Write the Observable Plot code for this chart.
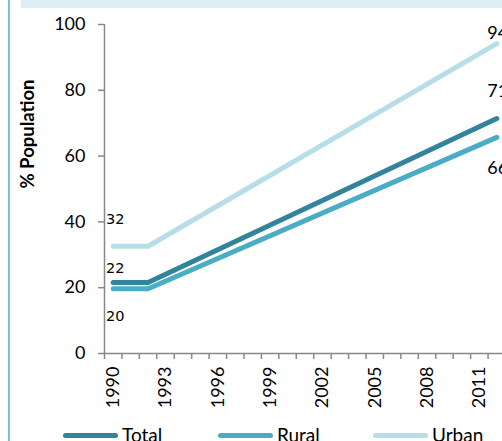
<!DOCTYPE html>
<html><head><meta charset="utf-8">
<script src="https://cdn.jsdelivr.net/npm/d3@7"></script>
<script src="https://cdn.jsdelivr.net/npm/@observablehq/plot@0.6"></script>
<style>
body{margin:0;background:#fff;}
#wrap{position:relative;width:502px;height:441px;overflow:hidden;font-family:Lato,sans-serif;background:#fff;}
#leftbar{position:absolute;left:8px;top:0;width:2px;height:441px;background:#79c3d5;}
#topband{position:absolute;left:21px;top:0;width:481px;height:8px;background:#dbeef4;}
#chart{position:absolute;left:0;top:0;width:520px;}
#chart svg{max-width:none !important;}
#ylabel{position:absolute;left:27px;top:134px;transform:translate(-50%,-50%) rotate(-90deg);white-space:nowrap;font-weight:bold;font-size:18.5px;color:#000;}
#legend{position:absolute;left:0;top:426px;width:600px;height:18px;}
.item{position:absolute;top:0;height:18px;line-height:18px;font-size:19px;color:#000;display:flex;align-items:center;}
.sw{width:55px;height:5px;border-radius:3px;margin-right:4px;}
</style></head><body>
<div id="wrap">
  <div id="leftbar"></div>
  <div id="topband"></div>
  <div id="chart"></div>
  <div id="ylabel">% Population</div>
  <div id="legend"></div>
</div>
<script>
// ---- data ----
const series = ["Total", "Rural", "Urban"];
const colors = ["#31849b", "#4bacc6", "#b7dee8"];
const years = [1990, 1992, 2012];
const totalValues = [21.6, 21.6, 71.4];
const ruralValues = [19.7, 19.7, 65.7];
const urbanValues = [32.6, 32.6, 94.2];
const startLabels = ["22", "20", "32"];   // 1990, per series
const endLabels = ["71", "66", "94"];     // 2012, per series
const tickLabelYears = [1990, 1993, 1996, 1999, 2002, 2005, 2008, 2011];
const categoryYears = d3.range(1990, 2013);
const yTicks = [0, 20, 40, 60, 80, 100];

const valuesBySeries = [totalValues, ruralValues, urbanValues];
const data = series.flatMap((s, i) => years.map((yr, j) => ({series: s, year: yr, value: valuesBySeries[i][j]})));
const labels = series.flatMap((s, i) => [
  {series: s, year: years[0], value: valuesBySeries[i][0], text: startLabels[i], side: "start"},
  {series: s, year: years[years.length - 1], value: valuesBySeries[i][years.length - 1], text: endLabels[i], side: "end"}
]);

// label style offsets (vertical placement around the point)
const labelDy = {
  "Total-start": -14, "Rural-start": 28, "Urban-start": -27,
  "Total-end": -27, "Rural-end": 31, "Urban-end": -10
};
const gray = "#888888";
const cx = d => d.year + 0.5; // centre of the year category

const textMarks = labels.map(l => Plot.text([l], {
  x: cx, y: "value", text: "text",
  dy: labelDy[l.series + "-" + l.side], dx: l.side === "start" ? 2 : 1,
  fontFamily: l.side === "start" ? "DejaVu Sans" : "Lato",
  fontSize: l.side === "start" ? 14.5 : 18,
  fill: "#000"
}));

const chart = Plot.plot({
  width: 510, height: 415,
  marginLeft: 104, marginRight: 5, marginTop: 24, marginBottom: 62,
  x: {type: "linear", domain: [categoryYears[0], categoryYears[categoryYears.length - 1] + 1]},
  y: {domain: [0, 100]},
  color: {domain: series, range: colors},
  style: {fontFamily: "Lato", fontSize: "18px", color: "#000", background: "transparent", overflow: "visible", maxWidth: "none"},
  marks: [
    Plot.axisY({ticks: yTicks, tickSize: 6, tickPadding: 13, stroke: gray, strokeWidth: 1.5, label: null, fill: "#000", fontSize: 18}),
    Plot.axisX({ticks: [...categoryYears, categoryYears[categoryYears.length - 1] + 1], tickFormat: () => "", tickSize: 6, stroke: gray, strokeWidth: 1.5, label: null}),
    Plot.axisX({ticks: tickLabelYears.map(y => y + 0.5), tickFormat: d => String(Math.round(d - 0.5)), tickRotate: -90, tickSize: 0, tickPadding: 13, label: null, fill: "#000", fontSize: 18}),
    Plot.ruleY([0], {stroke: gray, strokeWidth: 1.5}),
    Plot.ruleX([categoryYears[0]], {stroke: gray, strokeWidth: 1.5}),
    Plot.line(data, {x: cx, y: "value", z: "series", stroke: "series", strokeWidth: 5, strokeLinecap: "round", strokeLinejoin: "round"}),
    ...textMarks
  ]
});
document.getElementById("chart").appendChild(chart);

// legend
const legend = document.getElementById("legend");
const legendLeft = [63, 218, 373];
series.forEach((s, i) => {
  const it = document.createElement("div");
  it.className = "item";
  it.style.left = legendLeft[i] + "px";
  it.innerHTML = `<span class="sw" style="background:${colors[i]}"></span><span>${s}</span>`;
  legend.appendChild(it);
});
</script>
</body></html>
